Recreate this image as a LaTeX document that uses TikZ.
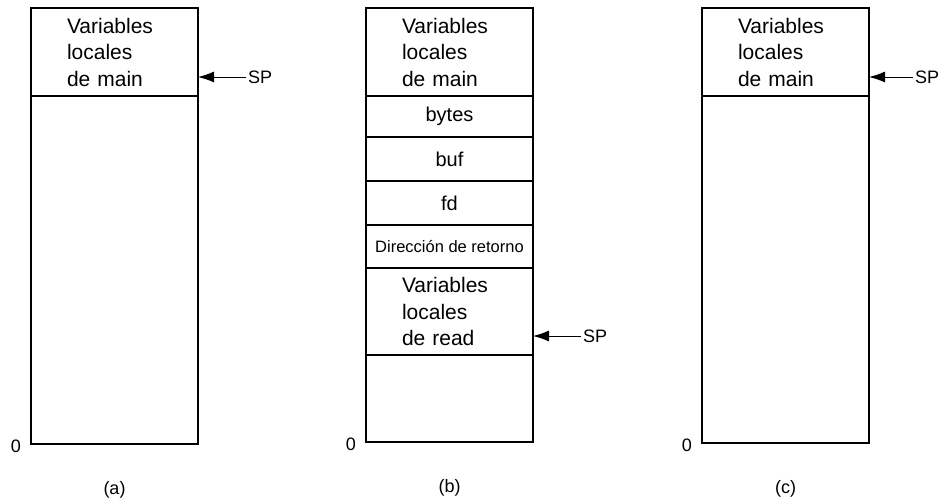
\documentclass[tikz,border=0pt]{standalone}
\usepackage{fontspec}
\setmainfont{Liberation Sans}
\usetikzlibrary{positioning,arrows.meta}

\tikzset{
  cell/.style={draw, line width=2.4pt, outer sep=0pt, inner sep=0pt,
    minimum width=167pt, font=\fontsize{20}{26}\selectfont},
  locals/.style={cell, text width=95pt, inner xsep=36pt, align=left,
    minimum height=88pt, font=\fontsize{21}{26.5}\selectfont},
  sp/.style={font=\fontsize{18}{20}\selectfont, inner sep=2pt},
  spline/.style={-{Latex[length=16pt,width=11pt]}, line width=1pt},
  zero/.style={font=\fontsize{18}{20}\selectfont, anchor=east, inner sep=2pt},
  caption/.style={font=\fontsize{18}{20}\selectfont},
}

\begin{document}
\begin{tikzpicture}[x=1pt,y=-1pt]
\useasboundingbox (0,0) rectangle (945,501);

% (a) stack before the call
\node[locals, anchor=north west] (amain) at (31,8) {Variables\\locales\\de main};
\node[cell, below=0pt of amain, minimum height=348pt] (afree) {};
\coordinate (atip) at ([yshift=19pt]amain.south east);
\node[sp, right=48pt of atip] (asp) {SP};
\draw[spline] (asp) -- (atip);
\node[zero] (azero) at ([xshift=-8pt,yshift=-2pt]afree.south west) {0};
\node[caption, below=34pt of afree] (acap) {(a)};

% (b) stack while read runs
\node[locals, anchor=north west] (bmain) at (366,8) {Variables\\locales\\de main};
\node[cell, below=0pt of bmain, minimum height=41pt] (bbytes) {bytes};
\node[cell, below=0pt of bbytes, minimum height=44pt] (bbuf) {buf};
\node[cell, below=0pt of bbuf, minimum height=44pt] (bfd) {fd};
\node[cell, below=0pt of bfd, minimum height=43pt,
  font=\fontsize{16.5}{18}\selectfont] (bret) {Dirección de retorno};
\node[locals, below=0pt of bret, minimum height=87pt] (bread) {Variables\\locales\\de read};
\node[cell, below=0pt of bread, minimum height=87pt] (bfree) {};
\coordinate (btip) at ([yshift=19pt]bread.south east);
\node[sp, right=48pt of btip] (bsp) {SP};
\draw[spline] (bsp) -- (btip);
\node[zero] (bzero) at ([xshift=-8pt,yshift=-2pt]bfree.south west) {0};
\node[caption, below=34pt of bfree] (bcap) {(b)};

% (c) stack after the return
\node[locals, anchor=north west] (cmain) at (702,8) {Variables\\locales\\de main};
\node[cell, below=0pt of cmain, minimum height=347pt] (cfree) {};
\coordinate (ctip) at ([yshift=19pt]cmain.south east);
\node[sp, right=44pt of ctip] (csp) {SP};
\draw[spline] (csp) -- (ctip);
\node[zero] (czero) at ([xshift=-8pt,yshift=-2pt]cfree.south west) {0};
\node[caption, below=34pt of cfree] (ccap) {(c)};
\end{tikzpicture}
\end{document}
